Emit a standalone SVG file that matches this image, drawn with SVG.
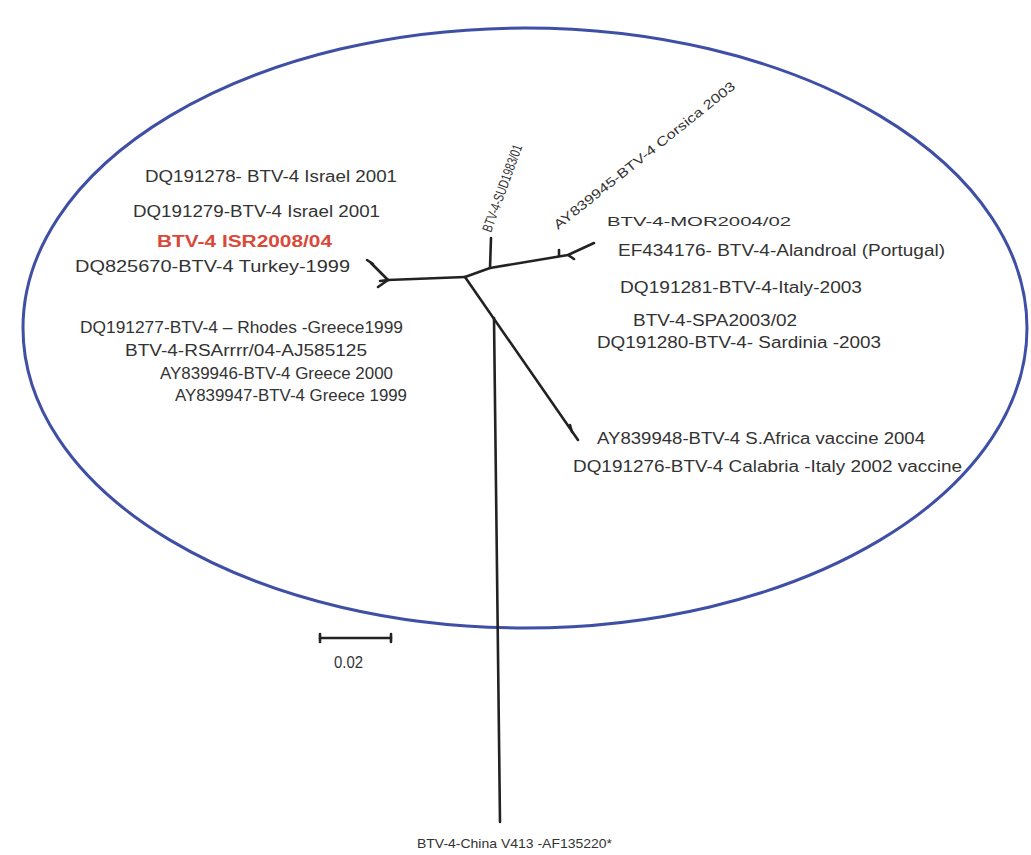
<svg xmlns="http://www.w3.org/2000/svg" width="1031" height="855" viewBox="0 0 1031 855">
<style>
.lbl{font-family:"Liberation Sans",Arial,sans-serif;font-size:16px;fill:#333;}
.sm{font-size:13px;}
.red{fill:#d9493a;font-weight:bold;}
.br{stroke:#222;stroke-width:2.6;fill:none;stroke-linecap:round;stroke-linejoin:round;}
</style>
<rect width="1031" height="855" fill="#fff"/>
<g id="ellipse"><ellipse cx="525" cy="328" rx="502" ry="300" fill="none" stroke="#3f4fa6" stroke-width="3"/></g>
<g id="connectors">
<path class="br" d="M465,277 L388,280"/>
<path class="br" d="M388,280 L371,263"/>
<path class="br" d="M367,260 L373,264" stroke-width="4"/>
<path class="br" d="M388,280 L378,287"/>
<path class="br" d="M388,280 L380,281"/>
<path class="br" d="M465,277 L490,268 L568,255 L594,243"/>
<path class="br" d="M490,268 L491,238"/>
<path class="br" d="M559,256 L559,250"/>
<path class="br" d="M568,255 L574,259"/>
<path class="br" d="M465,277 L578,440"/>
<path class="br" d="M572,432 L570,425"/>
<path class="br" d="M494,318 L500,822"/>
</g>
<g id="scale">
<path class="br" d="M320,638 L391,638"/>
<path class="br" d="M320,634 L320,642 M391,634 L391,642"/>
<text class="lbl" x="334" y="668" style="font-size:16px" textLength="29" lengthAdjust="spacingAndGlyphs">0.02</text>
</g>
<g id="labels-left">
<text id="n1" class="lbl" x="145" y="182" textLength="252" lengthAdjust="spacingAndGlyphs">DQ191278- BTV-4 Israel 2001</text>
<text id="n2" class="lbl" x="133" y="217" textLength="247" lengthAdjust="spacingAndGlyphs">DQ191279-BTV-4 Israel 2001</text>
<text id="n3" class="lbl red" x="157" y="247" textLength="175" lengthAdjust="spacingAndGlyphs">BTV-4 ISR2008/04</text>
<text id="n4" class="lbl" x="75" y="272" textLength="275" lengthAdjust="spacingAndGlyphs">DQ825670-BTV-4 Turkey-1999</text>
<text id="n5" class="lbl" x="80" y="333" textLength="323" lengthAdjust="spacingAndGlyphs">DQ191277-BTV-4 – Rhodes -Greece1999</text>
<text id="n6" class="lbl" x="125" y="356" textLength="242" lengthAdjust="spacingAndGlyphs">BTV-4-RSArrrr/04-AJ585125</text>
<text id="n7" class="lbl" x="160" y="379" textLength="233" lengthAdjust="spacingAndGlyphs">AY839946-BTV-4 Greece 2000</text>
<text id="n8" class="lbl" x="175" y="401" textLength="232" lengthAdjust="spacingAndGlyphs">AY839947-BTV-4 Greece 1999</text>
</g>
<g id="labels-top">
<text id="n9" class="lbl" style="font-size:14px" transform="translate(491,233) rotate(-70)" textLength="92" lengthAdjust="spacingAndGlyphs">BTV-4-SUD1983/01</text>
<text id="n10" class="lbl sm" transform="translate(558,230) rotate(-38.6)" textLength="228" lengthAdjust="spacingAndGlyphs">AY839945-BTV-4 Corsica 2003</text>
</g>
<g id="labels-right">
<text id="n11" class="lbl sm" x="607" y="226" textLength="184" lengthAdjust="spacingAndGlyphs">BTV-4-MOR2004/02</text>
<text id="n12" class="lbl" x="618" y="256" textLength="327" lengthAdjust="spacingAndGlyphs">EF434176- BTV-4-Alandroal (Portugal)</text>
<text id="n13" class="lbl" x="620" y="293" textLength="242" lengthAdjust="spacingAndGlyphs">DQ191281-BTV-4-Italy-2003</text>
<text id="n14" class="lbl" x="633" y="326" textLength="164" lengthAdjust="spacingAndGlyphs">BTV-4-SPA2003/02</text>
<text id="n15" class="lbl" x="597" y="348" textLength="284" lengthAdjust="spacingAndGlyphs">DQ191280-BTV-4- Sardinia -2003</text>
<text id="n16" class="lbl" x="597" y="444" textLength="328" lengthAdjust="spacingAndGlyphs">AY839948-BTV-4 S.Africa vaccine 2004</text>
<text id="n17" class="lbl" x="573" y="472" textLength="389" lengthAdjust="spacingAndGlyphs">DQ191276-BTV-4 Calabria -Italy 2002 vaccine</text>
</g>
<g id="labels-bottom">
<text id="n18" class="lbl sm" x="417" y="848" textLength="195" lengthAdjust="spacingAndGlyphs">BTV-4-China V413 -AF135220*</text>
</g>
</svg>
